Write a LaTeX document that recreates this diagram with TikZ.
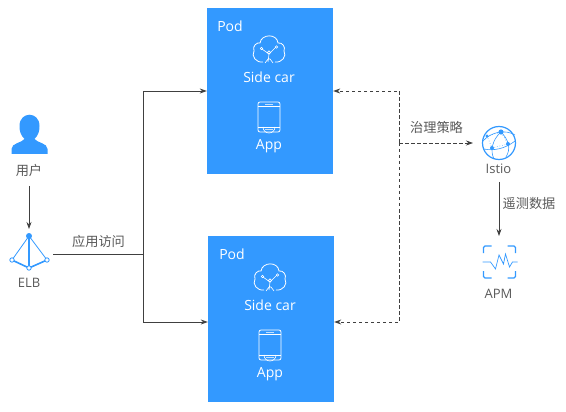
\documentclass[tikz,border=0pt]{standalone}
\usepackage{fontspec}
\setmainfont{Open Sans}
\newfontfamily\cjk{Noto Sans CJK SC}
\usetikzlibrary{arrows.meta, positioning, calc}
\definecolor{podblue}{RGB}{51,153,255}
\definecolor{wiredark}{RGB}{64,64,64}
\definecolor{labelgrey}{RGB}{89,89,89}
\tikzset{
  pod/.style={fill=podblue, minimum width=126pt, minimum height=166pt, inner sep=0pt},
  lbl/.style={text=labelgrey, font=\fontsize{13}{15}\selectfont, inner sep=0pt},
  cnlbl/.style={text=labelgrey, font=\cjk\fontsize{13.2}{15}\selectfont, inner sep=0pt},
  podlbl/.style={text=white, font=\fontsize{14}{16}\selectfont, inner sep=0pt},
  wire/.style={wiredark, line width=0.8pt},
  wiretip/.style={wire, -{Stealth[length=7pt, width=5pt]}},
  dashwire/.style={wiretip, dash pattern=on 3.5pt off 2.5pt},
  pics/sidecar/.style={code={
    \draw[white, line width=0.8pt] (-6,12) .. controls (-13,13) and (-18,6) .. (-15,1)
      .. controls (-17,-4) and (-12,-8) .. (-9,-7) .. controls (-8,-16) and (8,-17) .. (9,-7)
      .. controls (13,-8) and (17,-3) .. (15,1) .. controls (18,6) and (13,13) .. (6,12);
    \draw[white, line width=0.6pt] (-1,12) -- (0,4) -- (-7,-1) (0,4) -- (7,-3)
      (-4,13) -- (-1,9) -- (1,9) -- (4,13);
    \draw[white, line width=0.6pt] (0,2.5) circle (1.6) (-7.5,-1.5) circle (1.3) (7.5,-3) circle (1.3);
  }},
  pics/appicon/.style={code={
    \draw[white, line width=0.8pt, rounded corners=2pt] (-11,-15) rectangle (11,15);
    \draw[white, line width=0.6pt] (-11,-11) -- (11,-11) (-11,10) -- (11,10);
    \draw[white!70!podblue, line width=1.2pt] (-4,-12.5) -- (4,-12.5) (-4,12.5) -- (4,12.5);
    \draw[white, line width=0.6pt] (-6,10) arc (180:0:6);
  }},
  pics/usericon/.style={code={
    \fill[podblue] (-18,20) -- (-18,15) .. controls (-18,9) and (-8,9) .. (-5,5)
      .. controls (-9,1) and (-10,-3) .. (-10,-8) .. controls (-10,-23) and (10,-23) .. (10,-8)
      .. controls (10,-3) and (9,1) .. (5,5) .. controls (8,9) and (18,9) .. (18,15) -- (18,20) -- cycle;
  }},
  pics/elbicon/.style={code={
    \draw[podblue, line width=0.8pt] (-17,24) -- (0,0) -- (18,24);
    \draw[podblue, line width=1.6pt] (0,0) -- (0,32) (-17,24) -- (0,32) -- (18,24);
    \fill[podblue] (0,0) circle (3);
    \foreach \nx/\ny in {-17/24, 0/32, 18/24}
      \draw[podblue, fill=white, line width=0.8pt] (\nx,\ny) circle (2.2);
  }},
  pics/istioicon/.style={code={
    \draw[podblue, line width=1.2pt] (0,0) circle (16.5);
    \draw[podblue, line width=0.6pt] (-16,-2) .. controls (-8,-11) and (6,-14) .. (16,-8)
      (-15,6) .. controls (-6,8) and (6,6) .. (16,-2)
      (2,-11) .. controls (-7,-3) and (-9,8) .. (-5,16)
      (2,-11) .. controls (10,-3) and (12,6) .. (7,14);
    \draw[podblue, line width=0.6pt, dotted] (-12,-7) -- (-7,5) -- (9,1) -- (2,-11) -- cycle;
    \foreach \nx/\ny/\nr in {2/-11/2.6, -12/-7/1.6, 9/1/2, -7/5/2}
      \fill[podblue] (\nx,\ny) circle (\nr);
  }},
  pics/apmicon/.style={code={
    \draw[podblue, line width=1.2pt, rounded corners=1.5pt]
      (-16,-9) -- (-16,-16) -- (-8,-16) (8,-16) -- (16,-16) -- (16,-9)
      (16,9) -- (16,16) -- (8,16) (-8,16) -- (-16,16) -- (-16,9);
    \draw[podblue, line width=0.7pt] (-17,0) -- (-9,0) -- (-4,7) -- (-0.5,-7) -- (4,2) -- (6,-8)
      -- (10,5) -- (13,0) -- (18,0);
  }},
}

\begin{document}
\begin{tikzpicture}[x=1pt, y=-1pt]
  \useasboundingbox (0,0) rectangle (566,412);
  % Pods
  \node[pod] (pod1) at (270,91) {};
  \node[pod] (pod2) at (271,319) {};
  \node[podlbl] (podname1) at (230,26.5) {Pod};
  \pic at (269,50) {sidecar};
  \node[podlbl] (sidecar1) at (269,77) {Side car};
  \pic at (269,117) {appicon};
  \node[podlbl] (app1) at (269,146) {App};
  \node[podlbl] (podname2) at (232,254.5) {Pod};
  \pic at (270,278) {sidecar};
  \node[podlbl] (sidecar2) at (270,305) {Side car};
  \pic at (270,345) {appicon};
  \node[podlbl] (app2) at (270,374) {App};
  % Left column
  \pic at (29.5,134) {usericon};
  \node[cnlbl] (user) at (29,170) {用户};
  \pic at (29,236) {elbicon};
  \node[lbl] (elb) at (29,283) {ELB};
  \node[cnlbl] (access) at (98.5,241) {应用访问};
  % Right column
  \pic at (499,143) {istioicon};
  \node[lbl] (istio) at (498.5,169) {Istio};
  \pic at (499.5,262) {apmicon};
  \node[lbl] (apm) at (498.5,294) {APM};
  \node[cnlbl] (policy) at (436.5,127) {治理策略};
  \node[cnlbl] (telemetry) at (529,203) {遥测数据};
  % Connector ends
  \coordinate (userout) at (29,186);
  \coordinate (elbin) at (29,229);
  \coordinate (elbout) at (53,254);
  \coordinate (trunk) at (143.5,254);
  \coordinate (pod2west) at ($(pod2.west)+(0,3)$);
  \coordinate (pod2east) at ($(pod2.east)+(0,3)$);
  \coordinate (rail) at (399,143);
  \coordinate (istioin) at (473,143);
  \coordinate (istioout) at (499,182);
  \coordinate (apmin) at (499,236);
  % Solid lines
  \draw[wiretip] (userout) -- (elbin);
  \draw[wire] (elbout) -- (trunk);
  \draw[wiretip] (trunk) |- (pod1.west);
  \draw[wiretip] (trunk) |- (pod2west);
  \draw[wiretip] (istioout) -- (apmin);
  % Dashed lines
  \draw[dashwire] (rail) |- (pod1.east);
  \draw[dashwire] (rail) |- (pod2east);
  \draw[dashwire] (rail) -- (istioin);
\end{tikzpicture}
\end{document}
